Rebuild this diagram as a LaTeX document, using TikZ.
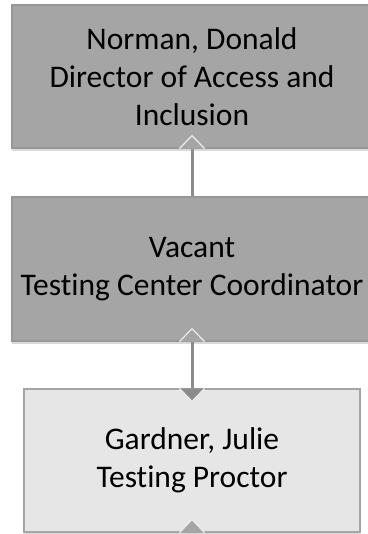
\documentclass[tikz,border=0pt]{standalone}
\usepackage{fontspec}
\setmainfont{Carlito}[Ligatures=NoCommon]
\usepackage{tikz}
\usetikzlibrary{positioning,shadows}
\definecolor{boxdark}{HTML}{A5A5A5}
\definecolor{boxedge}{HTML}{979797}
\definecolor{boxlight}{HTML}{E6E6E6}
\definecolor{linkgray}{HTML}{8C8C8C}
\definecolor{notchedge}{HTML}{EDEDED}
\tikzset{
  orgbox/.style={rectangle, draw=boxedge, line width=1.2pt, fill=boxdark, text=black,
                 align=center, inner sep=0pt, font=\fontsize{31.5}{38}\selectfont,
                 drop shadow={shadow xshift=0pt, shadow yshift=-3pt, opacity=0.25, fill=black!60}},
  staffbox/.style={orgbox, fill=boxlight, draw=boxdark},
  link/.style={draw=linkgray, line width=3pt},
  notch/.style={draw=notchedge, line width=1.2pt, line join=miter},
}
\begin{document}
\begin{tikzpicture}[x=1pt, y=1pt]
  \useasboundingbox (0,0) rectangle (367,-534);
  \node[orgbox, minimum width=360pt, minimum height=143pt] (director) at (192,-76.5)
    {Norman, Donald\\Director of Access and\\Inclusion};
  \node[orgbox, minimum width=360pt, minimum height=144pt] (coordinator) at (192,-269)
    {Vacant\\Testing Center Coordinator};
  \node[staffbox, minimum width=336pt, minimum height=143pt] (proctor) at (192,-460.5)
    {Gardner, Julie\\Testing Proctor};

  \draw[link] (coordinator.north) -- (director.south);
  \draw[link] (coordinator.south) -- (proctor.north);

  % notches on the box edges
  \draw[notch, fill=boxdark] ([xshift=-12.5pt]director.south) -- ([yshift=13pt]director.south) -- ([xshift=12.5pt]director.south);
  \draw[notch, fill=boxdark] ([xshift=-12.5pt]coordinator.south) -- ([yshift=13pt]coordinator.south) -- ([xshift=12.5pt]coordinator.south);
  \draw[notch, fill=linkgray] ([xshift=-12.5pt]proctor.north) -- ([yshift=-13pt]proctor.north) -- ([xshift=12.5pt]proctor.north);
  \draw[notch, fill=boxdark] ([xshift=-12.5pt]proctor.south) -- ([yshift=13pt]proctor.south) -- ([xshift=12.5pt]proctor.south);
\end{tikzpicture}
\end{document}
